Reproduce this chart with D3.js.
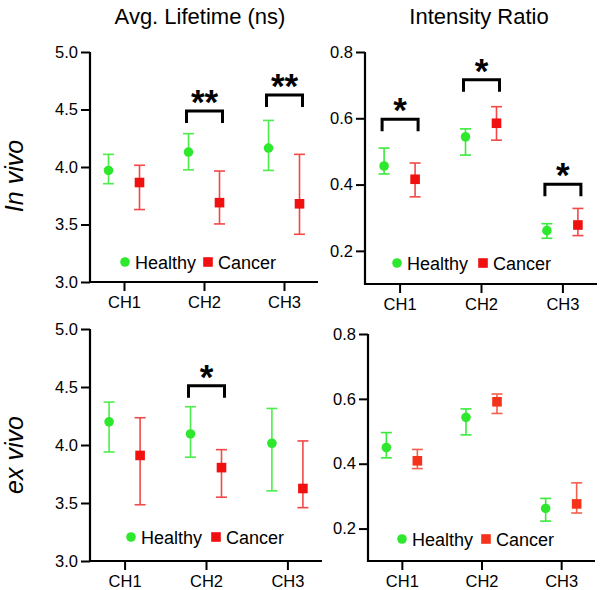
<!DOCTYPE html>
<html>
<head>
<meta charset="utf-8">
<script src="https://cdn.jsdelivr.net/npm/d3@7"></script>
<style>
  html, body { margin: 0; padding: 0; background: #fff; }
  svg { display: block; }
  text { font-family: "Liberation Sans", Arial, Helvetica, sans-serif; fill: #000; }
</style>
</head>
<body>
<svg id="chart" width="600" height="590"></svg>
<script>
// ---------- DATA ----------
const categories = ["CH1", "CH2", "CH3"];
const seriesNames = ["Healthy", "Cancer"];
const columnTitles = ["Avg. Lifetime (ns)", "Intensity Ratio"];
const rowTitles = ["In vivo", "ex vivo"];

const lifetimeTicks = [3.0, 3.5, 4.0, 4.5, 5.0];
const ratioTicks = [0.2, 0.4, 0.6, 0.8];

// In vivo, average lifetime
const inVivoLifeHealthyMean = [3.97, 4.13, 4.165];
const inVivoLifeHealthyLo   = [3.855, 3.975, 3.97];
const inVivoLifeHealthyHi   = [4.11, 4.29, 4.405];
const inVivoLifeCancerMean  = [3.865, 3.69, 3.68];
const inVivoLifeCancerLo    = [3.63, 3.505, 3.415];
const inVivoLifeCancerHi    = [4.015, 3.965, 4.11];

// In vivo, intensity ratio
const inVivoRatioHealthyMean = [0.456, 0.544, 0.261];
const inVivoRatioHealthyLo   = [0.432, 0.489, 0.238];
const inVivoRatioHealthyHi   = [0.510, 0.568, 0.282];
const inVivoRatioCancerMean  = [0.416, 0.585, 0.278];
const inVivoRatioCancerLo    = [0.363, 0.534, 0.246];
const inVivoRatioCancerHi    = [0.465, 0.635, 0.328];

// Ex vivo, average lifetime
const exVivoLifeHealthyMean = [4.20, 4.095, 4.015];
const exVivoLifeHealthyLo   = [3.94, 3.895, 3.605];
const exVivoLifeHealthyHi   = [4.37, 4.33, 4.315];
const exVivoLifeCancerMean  = [3.91, 3.805, 3.625];
const exVivoLifeCancerLo    = [3.485, 3.55, 3.46];
const exVivoLifeCancerHi    = [4.235, 3.96, 4.035];

// Ex vivo, intensity ratio
const exVivoRatioHealthyMean = [0.450, 0.543, 0.262];
const exVivoRatioHealthyLo   = [0.418, 0.489, 0.223];
const exVivoRatioHealthyHi   = [0.496, 0.569, 0.293];
const exVivoRatioCancerMean  = [0.409, 0.591, 0.276];
const exVivoRatioCancerLo    = [0.385, 0.555, 0.248];
const exVivoRatioCancerHi    = [0.444, 0.615, 0.341];

// Significance markers: category, bracket level (data units), label
const inVivoLifeSig  = [{cat: "CH2", level: 4.487, label: "**"}, {cat: "CH3", level: 4.626, label: "**"}];
const inVivoRatioSig = [{cat: "CH1", level: 0.597, label: "*"}, {cat: "CH2", level: 0.716, label: "*"}, {cat: "CH3", level: 0.401, label: "*"}];
const exVivoLifeSig  = [{cat: "CH2", level: 4.511, label: "*"}];
const exVivoRatioSig = [];

// ---------- LAYOUT ----------
const svg = d3.select("#chart");

function zip(mean, lo, hi) {
  return categories.map((c, i) => ({cat: c, mean: mean[i], lo: lo[i], hi: hi[i]}));
}

const panels = [
  { x0: 90, x1: 318, yTop: 52, yBot: 282, domain: [3, 5], ticks: lifetimeTicks, fmt: d3.format(".1f"),
    healthy: zip(inVivoLifeHealthyMean, inVivoLifeHealthyLo, inVivoLifeHealthyHi),
    cancer: zip(inVivoLifeCancerMean, inVivoLifeCancerLo, inVivoLifeCancerHi),
    sig: inVivoLifeSig, legX: 125, legY: 262, legSq: 208,
    hCol: "#2ee82e", hBar: "#4cee4c", cCol: "#f01010", cBar: "#f24848" },
  { x0: 365, x1: 597, yTop: 52, yBot: 284, domain: [0.1, 0.8], ticks: ratioTicks, fmt: d3.format(".1f"),
    healthy: zip(inVivoRatioHealthyMean, inVivoRatioHealthyLo, inVivoRatioHealthyHi),
    cancer: zip(inVivoRatioCancerMean, inVivoRatioCancerLo, inVivoRatioCancerHi),
    sig: inVivoRatioSig, legX: 397, legY: 263, legSq: 483,
    hCol: "#2ee82e", hBar: "#3aea3a", cCol: "#f01010", cBar: "#f24848" },
  { x0: 90, x1: 322, yTop: 329, yBot: 561, domain: [3, 5], ticks: lifetimeTicks, fmt: d3.format(".1f"),
    healthy: zip(exVivoLifeHealthyMean, exVivoLifeHealthyLo, exVivoLifeHealthyHi),
    cancer: zip(exVivoLifeCancerMean, exVivoLifeCancerLo, exVivoLifeCancerHi),
    sig: exVivoLifeSig, legX: 131, legY: 537, legSq: 216,
    hCol: "#2ee82e", hBar: "#4cee4c", cCol: "#f01010", cBar: "#f24848" },
  { x0: 368, x1: 595, yTop: 334, yBot: 561, domain: [0.1, 0.8], ticks: ratioTicks, fmt: d3.format(".1f"),
    healthy: zip(exVivoRatioHealthyMean, exVivoRatioHealthyLo, exVivoRatioHealthyHi),
    cancer: zip(exVivoRatioCancerMean, exVivoRatioCancerLo, exVivoRatioCancerHi),
    sig: exVivoRatioSig, legX: 402, legY: 539, legSq: 486,
    hCol: "#2ee82e", hBar: "#3aea3a", cCol: "#f5321a", cBar: "#f5604c" }
];

const offset = 15.5;

panels.forEach(p => {
  const x = d3.scalePoint().domain(categories).range([p.x0, p.x1]).padding(0.425);
  const maxTick = d3.max(p.ticks);
  const y = d3.scaleLinear().domain(p.domain)
    .range([p.yBot, p.yBot - (p.yBot - p.yTop) * (p.domain[1] - p.domain[0]) / (maxTick - p.domain[0])]);

  const g = svg.append("g");

  // y axis
  const ya = g.append("g").attr("transform", `translate(${p.x0},0)`)
    .call(d3.axisLeft(y).tickValues(p.ticks).tickFormat(p.fmt).tickSize(9).tickPadding(3).tickSizeOuter(0));
  ya.select(".domain").remove();
  ya.append("line").attr("x1", 0).attr("x2", 0).attr("y1", y(maxTick)).attr("y2", p.yBot + 1)
    .attr("stroke", "#000").attr("stroke-width", 2.2);
  ya.selectAll(".tick line").attr("stroke", "#000").attr("stroke-width", 2);
  ya.selectAll(".tick text").style("font-size", "16.5px").attr("fill", "#000");

  // x axis
  const xa = g.append("g").attr("transform", `translate(0,${p.yBot})`)
    .call(d3.axisBottom(x).tickSize(9).tickPadding(5).tickSizeOuter(0));
  xa.select(".domain").remove();
  xa.append("line").attr("x1", p.x0 - 1).attr("x2", p.x1).attr("y1", 0).attr("y2", 0)
    .attr("stroke", "#000").attr("stroke-width", 2.2);
  xa.selectAll(".tick line").attr("stroke", "#000").attr("stroke-width", 2);
  xa.selectAll(".tick text").style("font-size", "16.5px").attr("fill", "#000");

  // error bars + markers
  function drawSeries(data, dx, barCol, col, shape) {
    const s = g.append("g");
    const eb = s.selectAll("g.eb").data(data).enter().append("g");
    eb.append("line")
      .attr("x1", d => x(d.cat) + dx).attr("x2", d => x(d.cat) + dx)
      .attr("y1", d => y(d.lo)).attr("y2", d => y(d.hi))
      .attr("stroke", barCol).attr("stroke-width", 1.6);
    eb.append("line")
      .attr("x1", d => x(d.cat) + dx - 5.5).attr("x2", d => x(d.cat) + dx + 5.5)
      .attr("y1", d => y(d.lo)).attr("y2", d => y(d.lo))
      .attr("stroke", barCol).attr("stroke-width", 1.6);
    eb.append("line")
      .attr("x1", d => x(d.cat) + dx - 5.5).attr("x2", d => x(d.cat) + dx + 5.5)
      .attr("y1", d => y(d.hi)).attr("y2", d => y(d.hi))
      .attr("stroke", barCol).attr("stroke-width", 1.6);
    if (shape === "circle") {
      s.selectAll("circle").data(data).enter().append("circle")
        .attr("cx", d => x(d.cat) + dx).attr("cy", d => y(d.mean)).attr("r", 4.8).attr("fill", col);
    } else {
      s.selectAll("rect").data(data).enter().append("rect")
        .attr("x", d => x(d.cat) + dx - 4.8).attr("y", d => y(d.mean) - 4.8)
        .attr("width", 9.6).attr("height", 9.6).attr("fill", col);
    }
  }
  drawSeries(p.healthy, -offset, p.hBar, p.hCol, "circle");
  drawSeries(p.cancer, offset, p.cBar, p.cCol, "square");

  // significance brackets
  p.sig.forEach(sg => {
    const cx = x(sg.cat);
    const yy = y(sg.level);
    const xl = cx - 17.5, xr = cx + 18.5;
    g.append("path")
      .attr("d", `M${xl},${yy + 12}V${yy}H${xr}V${yy + 12}`)
      .attr("fill", "none").attr("stroke", "#000").attr("stroke-width", 3);
    g.append("text")
      .attr("x", (xl + xr) / 2).attr("y", yy + 3)
      .attr("text-anchor", "middle")
      .style("font-size", "35px").style("font-weight", "bold")
      .text(sg.label);
  });

  // legend
  const lg = g.append("g");
  lg.append("circle").attr("cx", p.legX).attr("cy", p.legY).attr("r", 4.8).attr("fill", p.hCol);
  lg.append("text").attr("x", p.legX + 10).attr("y", p.legY + 6.5)
    .style("font-size", "18px").text(seriesNames[0]);
  lg.append("rect").attr("x", p.legSq - 4.8).attr("y", p.legY - 4.8).attr("width", 9.6).attr("height", 9.6)
    .attr("fill", p.cCol);
  lg.append("text").attr("x", p.legSq + 10).attr("y", p.legY + 6.5)
    .style("font-size", "18px").text(seriesNames[1]);
});

// column titles
svg.append("text").attr("x", 200).attr("y", 24).attr("text-anchor", "middle")
  .style("font-size", "22px").text(columnTitles[0]);
svg.append("text").attr("x", 479).attr("y", 24).attr("text-anchor", "middle")
  .style("font-size", "22px").text(columnTitles[1]);

// row titles
svg.append("text").attr("transform", "translate(23,176) rotate(-90)").attr("text-anchor", "middle")
  .style("font-size", "25px").style("font-style", "italic").text(rowTitles[0]);
svg.append("text").attr("transform", "translate(23,455) rotate(-90)").attr("text-anchor", "middle")
  .style("font-size", "25px").style("font-style", "italic").text(rowTitles[1]);
</script>
</body>
</html>
